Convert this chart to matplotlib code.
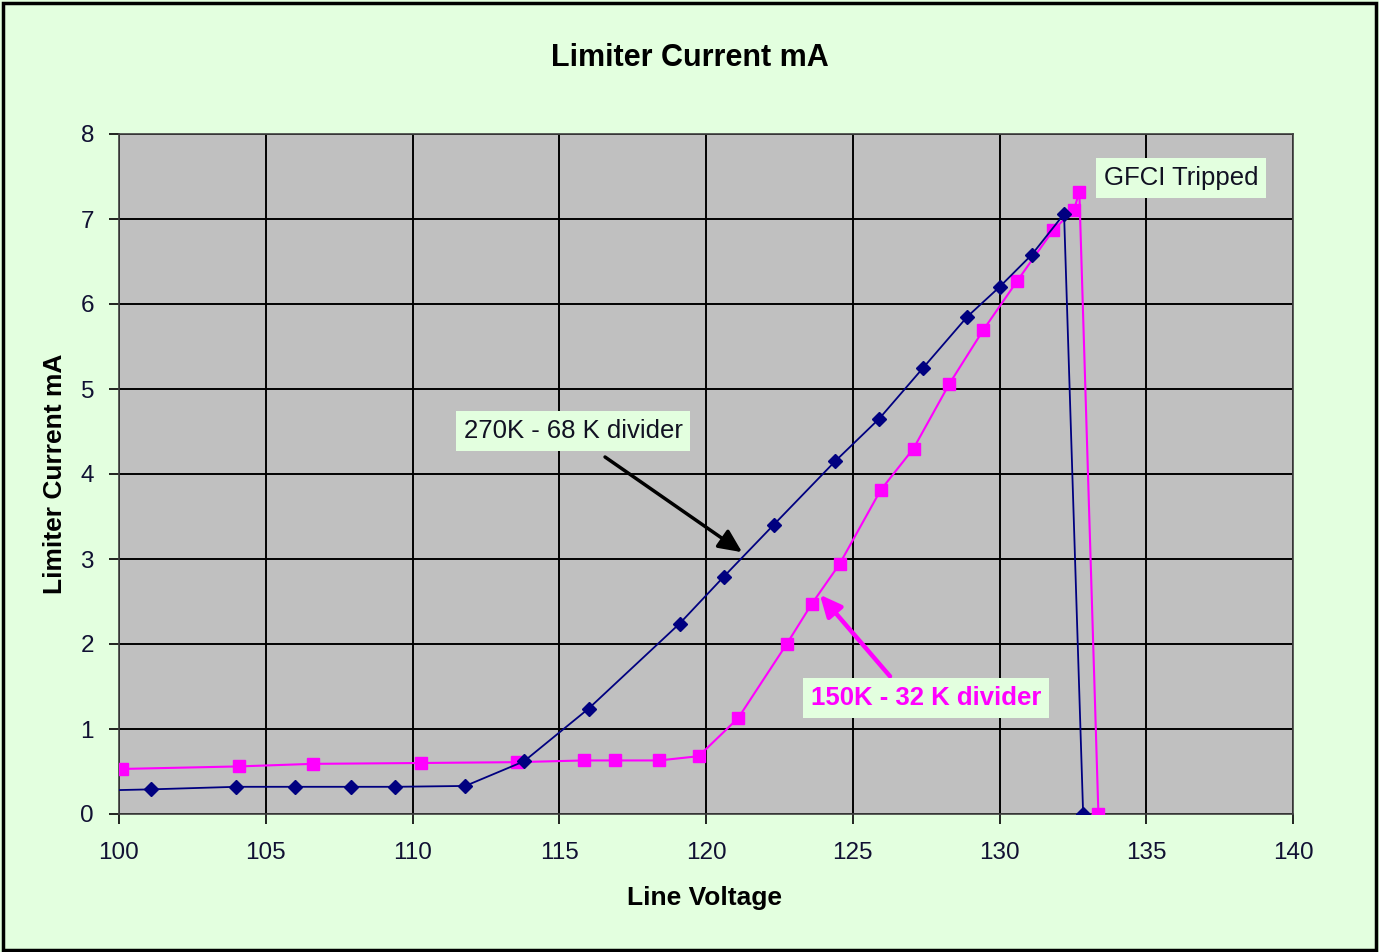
import matplotlib
matplotlib.use("Agg")
import matplotlib.pyplot as plt
from matplotlib.patches import Rectangle

# ---- data ----
v_270k = [99.8, 101.1, 104.0, 106.0, 107.9, 109.4, 111.8, 113.8, 116.0, 119.1,
          120.6, 122.3, 124.4, 125.9, 127.4, 128.9, 130.0, 131.1, 132.2, 132.85]
i_270k = [0.28, 0.29, 0.32, 0.32, 0.32, 0.32, 0.33, 0.62, 1.24, 2.24,
          2.79, 3.40, 4.15, 4.65, 5.25, 5.85, 6.20, 6.58, 7.06, 0.0]

v_150k = [100.1, 104.1, 106.6, 110.3, 113.55, 115.85, 116.9, 118.4, 119.75, 121.1,
          122.75, 123.6, 124.55, 125.95, 127.07, 128.29, 129.44, 130.6, 131.83,
          132.54, 132.72, 133.37]
i_150k = [0.53, 0.56, 0.59, 0.60, 0.61, 0.63, 0.63, 0.63, 0.68, 1.13,
          2.00, 2.47, 2.94, 3.81, 4.30, 5.06, 5.69, 6.27, 6.87,
          7.11, 7.32, 0.0]

x_ticks = [100, 105, 110, 115, 120, 125, 130, 135, 140]
y_ticks = [0, 1, 2, 3, 4, 5, 6, 7, 8]

title = "Limiter Current mA"
xlabel = "Line Voltage"
ylabel = "Limiter Current mA"
label_270k = "270K - 68 K divider"
label_150k = "150K - 32 K divider"
label_gfci = "GFCI Tripped"

BG = "#E3FFDF"
PLOT_BG = "#C0C0C0"
NAVY = "#000080"
MAGENTA = "#FF00FF"

plt.rcParams['font.family'] = ['Liberation Sans', 'DejaVu Sans']

fig = plt.figure(figsize=(13.79, 9.52), dpi=100, facecolor=BG)
ax = fig.add_axes([119/1379, 1-814/952, (1293-119)/1379, (814-134)/952])
ax.set_facecolor(PLOT_BG)

# figure border
fig.patches.append(Rectangle((0.002, 0.002), 0.996, 0.995, transform=fig.transFigure,
                             fill=False, edgecolor='black', linewidth=2.5))

ax.set_xlim(100, 140)
ax.set_ylim(0, 8)
ax.set_xticks(x_ticks)
ax.set_yticks(y_ticks)
ax.set_xticklabels([str(t) for t in x_ticks])
ax.set_yticklabels([str(t) for t in y_ticks])
ax.grid(True, color='black', linewidth=1.4)
ax.set_axisbelow(True)
ax.tick_params(axis='both', direction='out', length=7, width=1.2, color='black',
               labelsize=17.5, labelcolor='#111133')
ax.tick_params(axis='x', pad=13)
ax.tick_params(axis='y', pad=11)
for s in ax.spines.values():
    s.set_color('#404040')
    s.set_linewidth(1.2)

ax.plot(v_150k, i_150k, color=MAGENTA, linewidth=1.5, marker='s', markersize=8.5,
        markerfacecolor=MAGENTA, markeredgecolor=MAGENTA, zorder=3)
ax.plot(v_270k, i_270k, color=NAVY, linewidth=1.3, marker='D', markersize=7.5,
        markerfacecolor=NAVY, markeredgecolor=NAVY, markevery=list(range(1, len(v_270k))),
        zorder=4)

fig.text(0.5005, 1-58/952, title, ha='center', va='center', fontsize=22, fontweight='bold')
ax.set_xlabel(xlabel, fontsize=19, fontweight='bold', va='center')
ax.xaxis.set_label_coords(0.499, -0.124)
ax.set_ylabel(ylabel, fontsize=19, fontweight='bold', va='center')
ax.yaxis.set_label_coords(-0.0545, 0.5)

box = dict(boxstyle='square,pad=0.3', facecolor=BG, edgecolor='none')

ax.text(115.47, 4.506, label_270k, ha='center', va='center', fontsize=18.5,
        color='#111122', bbox=box, zorder=6)
ax.text(127.5, 1.365, label_150k, ha='center', va='center', fontsize=18.5,
        fontweight='bold', color=MAGENTA, bbox=box, zorder=6)
ax.text(136.18, 7.48, label_gfci, ha='center', va='center', fontsize=18.5,
        color='#111122', bbox=box, zorder=6)

ax.annotate('', xy=(121.23, 3.08), xytext=(116.56, 4.2),
            arrowprops=dict(arrowstyle='-|>,head_length=1.4,head_width=0.65',
                            color='black', linewidth=2.5, shrinkA=0, shrinkB=0), zorder=5)
ax.annotate('', xy=(123.88, 2.58), xytext=(126.27, 1.62),
            arrowprops=dict(arrowstyle='-|>,head_length=1.3,head_width=0.6',
                            color=MAGENTA, linewidth=3.2, shrinkA=0, shrinkB=0), zorder=5)

fig.savefig("out.png", dpi=100, facecolor=BG)
